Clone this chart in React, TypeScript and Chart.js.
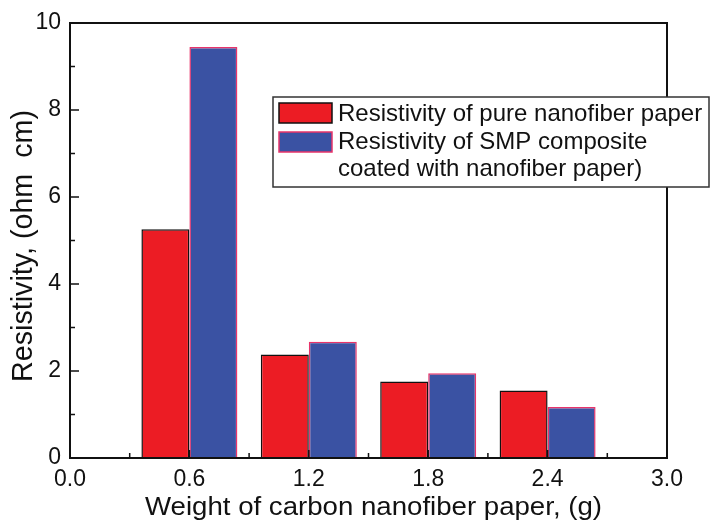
import React, { useEffect, useRef } from "react";
import { Chart, registerables } from "chart.js";

Chart.register(...registerables);

const weights = [0.6, 1.2, 1.8, 2.4];
const pureNanofiber = [5.26, 2.38, 1.76, 1.55];
const smpComposite = [9.45, 2.67, 1.95, 1.17];
const xTickValues = [0, 0.6, 1.2, 1.8, 2.4, 3.0];
const xMinorTicks = [0.3, 0.9, 1.5, 2.1, 2.7];
const yTickValues = [0, 2, 4, 6, 8, 10];
const yMinorTicks = [1, 3, 5, 7, 9];
const seriesLabels = ["Resistivity of pure nanofiber paper", "Resistivity of SMP composite"];
const secondLabelExtra = "coated with nanofiber paper)";
const xTitle = "Weight of carbon nanofiber paper, (g)";
const yTitle = "Resistivity, (ohm  cm)";

const RED = "#ec1c24";
const BLUE = "#3a52a3";
const BLUE_BORDER = "#e8346a";
const FONT = "'Liberation Sans', Arial, sans-serif";

function stretchedText(ctx: CanvasRenderingContext2D, text: string, targetWidth: number) {
  const w = ctx.measureText(text).width;
  const k = targetWidth / w;
  ctx.save();
  ctx.scale(k, 1);
  ctx.fillText(text, 0, 0);
  ctx.restore();
}

const framePlugin = {
  id: "frameTicks",
  afterDatasetsDraw(chart: any) {
    const { ctx, chartArea: a, scales } = chart;
    const xs = scales.x;
    const ys = scales.y;
    ctx.save();
    ctx.strokeStyle = "#111";
    ctx.lineWidth = 2;
    ctx.strokeRect(a.left, a.top, a.right - a.left, a.bottom - a.top);
    ctx.lineWidth = 1.5;
    ctx.beginPath();
    xTickValues.forEach((v) => {
      const px = xs.getPixelForValue(v);
      ctx.moveTo(px, a.bottom);
      ctx.lineTo(px, a.bottom - 8);
    });
    xMinorTicks.forEach((v) => {
      const px = xs.getPixelForValue(v);
      ctx.moveTo(px, a.bottom);
      ctx.lineTo(px, a.bottom - 5);
    });
    yTickValues.forEach((v) => {
      const py = ys.getPixelForValue(v);
      ctx.moveTo(a.left, py);
      ctx.lineTo(a.left + 9, py);
    });
    yMinorTicks.forEach((v) => {
      const py = ys.getPixelForValue(v);
      ctx.moveTo(a.left, py);
      ctx.lineTo(a.left + 5, py);
    });
    ctx.stroke();
    ctx.restore();
  },
  afterDraw(chart: any) {
    const { ctx } = chart;
    ctx.save();
    ctx.fillStyle = "#111";
    ctx.textAlign = "left";
    ctx.textBaseline = "alphabetic";
    // x title
    ctx.font = `26px ${FONT}`;
    ctx.save();
    ctx.translate(145, 515);
    stretchedText(ctx, xTitle, 457);
    ctx.restore();
    // y title
    ctx.font = `29px ${FONT}`;
    ctx.save();
    ctx.translate(32, 382);
    ctx.rotate(-Math.PI / 2);
    stretchedText(ctx, yTitle, 272);
    ctx.restore();
    ctx.restore();

    // legend
    ctx.save();
    ctx.fillStyle = "#fff";
    ctx.fillRect(273, 97, 436, 90);
    ctx.strokeStyle = "#333";
    ctx.lineWidth = 1.5;
    ctx.strokeRect(273, 97, 436, 90);
    ctx.fillStyle = RED;
    ctx.fillRect(279, 103, 53, 20);
    ctx.strokeStyle = "#111";
    ctx.strokeRect(279, 103, 53, 20);
    ctx.fillStyle = BLUE;
    ctx.fillRect(279, 132, 53, 20);
    ctx.strokeStyle = BLUE_BORDER;
    ctx.strokeRect(279, 132, 53, 20);
    ctx.fillStyle = "#111";
    ctx.font = `24px ${FONT}`;
    ctx.textAlign = "left";
    ctx.textBaseline = "middle";
    ctx.fillText(seriesLabels[0], 338, 114);
    ctx.fillText(seriesLabels[1], 338, 142);
    ctx.fillText(secondLabelExtra, 338, 169);
    ctx.restore();
  },
};

export default function App() {
  const ref = useRef<HTMLCanvasElement>(null);
  useEffect(() => {
    document.body.style.margin = "0";
    const chart = new Chart(ref.current as HTMLCanvasElement, {
      type: "bar",
      data: {
        datasets: [
          {
            label: seriesLabels[0],
            data: weights.map((w, i) => ({ x: w, y: pureNanofiber[i] })),
            backgroundColor: RED,
            borderColor: "#111",
            borderWidth: 1.5,
          },
          {
            label: seriesLabels[1],
            data: weights.map((w, i) => ({ x: w, y: smpComposite[i] })),
            backgroundColor: BLUE,
            borderColor: BLUE_BORDER,
            borderWidth: 1.5,
          },
        ],
      },
      options: {
        animation: false,
        responsive: false,
        datasets: { bar: { categoryPercentage: 0.804, barPercentage: 1 } },
        layout: { padding: { top: 23, right: 45, left: 0, bottom: 0 } },
        plugins: { legend: { display: false }, tooltip: { enabled: false } },
        scales: {
          x: {
            type: "linear",
            min: 0,
            max: 3,
            offset: false,
            grid: { display: false, drawTicks: false },
            border: { display: false },
            afterBuildTicks: (s: any) => {
              s.ticks = xTickValues.map((v) => ({ value: v }));
            },
            afterFit: (s: any) => {
              s.height = 67;
            },
            ticks: {
              color: "#111",
              padding: 8,
              maxRotation: 0,
              font: { family: FONT, size: 23 },
              callback: (v: any) => Number(v).toFixed(1),
            },
          },
          y: {
            min: 0,
            max: 10,
            grid: { display: false, drawTicks: false },
            border: { display: false },
            afterBuildTicks: (s: any) => {
              s.ticks = yTickValues.map((v) => ({ value: v }));
            },
            afterFit: (s: any) => {
              s.width = 70;
            },
            ticks: {
              color: "#111",
              padding: 9,
              font: { family: FONT, size: 23 },
            },
          },
        },
      },
      plugins: [framePlugin],
    });
    return () => chart.destroy();
  }, []);
  return (
    <div style={{ width: 712, height: 525, background: "#fff" }}>
      <canvas ref={ref} width={712} height={525} />
    </div>
  );
}
